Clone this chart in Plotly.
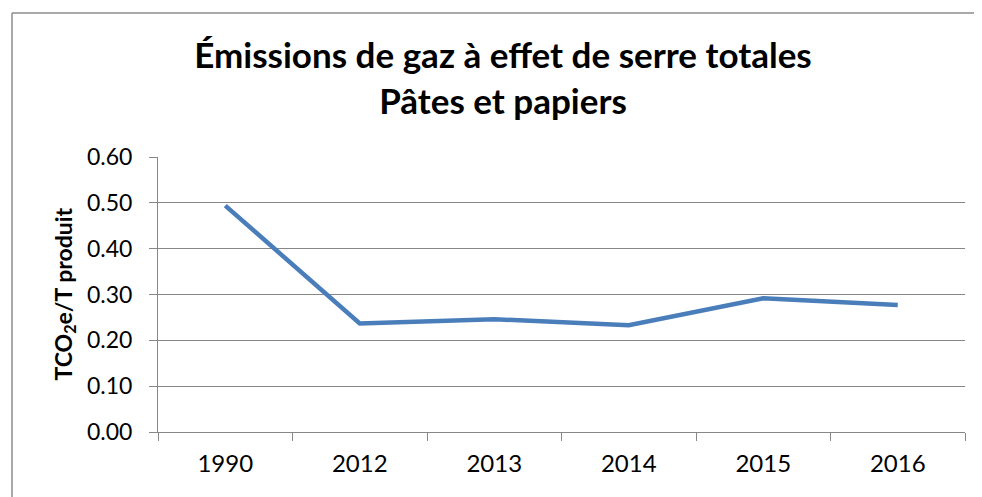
import plotly.graph_objects as go

years = ["1990", "2012", "2013", "2014", "2015", "2016"]
values = [0.494, 0.237, 0.246, 0.233, 0.292, 0.277]
y_ticks = [0.0, 0.1, 0.2, 0.3, 0.4, 0.5, 0.6]
title_lines = ["Émissions de gaz à effet de serre totales", "Pâtes et papiers"]
y_title = "TCO<sub>2</sub>e/T produit"

OFF = 8  # page body margin
W, H = 982 - OFF, 497 - OFF
L, R, T, B = 158 - OFF, 17, 157 - OFF, 65
pw, ph = W - L - R, H - T - B

fig = go.Figure(go.Scatter(
    x=years, y=values, mode="lines",
    line=dict(color="#4A7EBB", width=4.5),
    hoverinfo="x+y",
))

fnt = "Lato"
grid = "#878787"

fig.update_layout(
    width=W, height=H,
    margin=dict(l=L, r=R, t=T, b=B),
    paper_bgcolor="white", plot_bgcolor="white",
    showlegend=False,
    font=dict(family=fnt, color="black"),
    title=dict(
        text="<br>".join(title_lines),
        x=(503 - OFF - L) / pw, xref="paper", xanchor="center",
        y=1 - (68 - OFF) / H, yref="container", yanchor="middle",
        font=dict(size=35, family=fnt, color="black", weight="bold"),
    ),
    xaxis=dict(
        type="category", range=[-0.5, 5.5],
        showgrid=False, showline=True, linecolor=grid, linewidth=1,
        ticks="outside", ticklen=8, tickcolor=grid, tickson="boundaries",
        tickfont=dict(size=24, family=fnt), ticklabelstandoff=10,
        fixedrange=True,
    ),
    yaxis=dict(
        range=[0, 0.6], tickvals=y_ticks, tickformat=".2f",
        showgrid=True, gridcolor=grid, gridwidth=1,
        showline=True, linecolor=grid, linewidth=1,
        ticks="outside", ticklen=8, tickcolor=grid,
        tickfont=dict(size=23, family=fnt), ticklabelstandoff=12,
        zeroline=False,
    ),
    annotations=[
        dict(text=y_title, xref="paper", yref="paper",
             x=(64 - 158) / pw, y=0.5, xanchor="center", yanchor="middle",
             textangle=-90, showarrow=False,
             font=dict(size=23, family=fnt, color="black", weight="bold")),
    ],
    shapes=[
        dict(type="line", xref="paper", yref="paper",
             x0=(12 - OFF - L) / pw, x1=(1000 - L) / pw,
             y0=1 + (T - (13 - OFF)) / ph, y1=1 + (T - (13 - OFF)) / ph,
             line=dict(color="#8C8C8C", width=1.5)),
        dict(type="line", xref="paper", yref="paper",
             x0=(12 - OFF - L) / pw, x1=(12 - OFF - L) / pw,
             y0=1 + (T - (13 - OFF)) / ph, y1=-(B + 10) / ph,
             line=dict(color="#8C8C8C", width=1.5)),
    ],
)

fig.write_html("out.html")
